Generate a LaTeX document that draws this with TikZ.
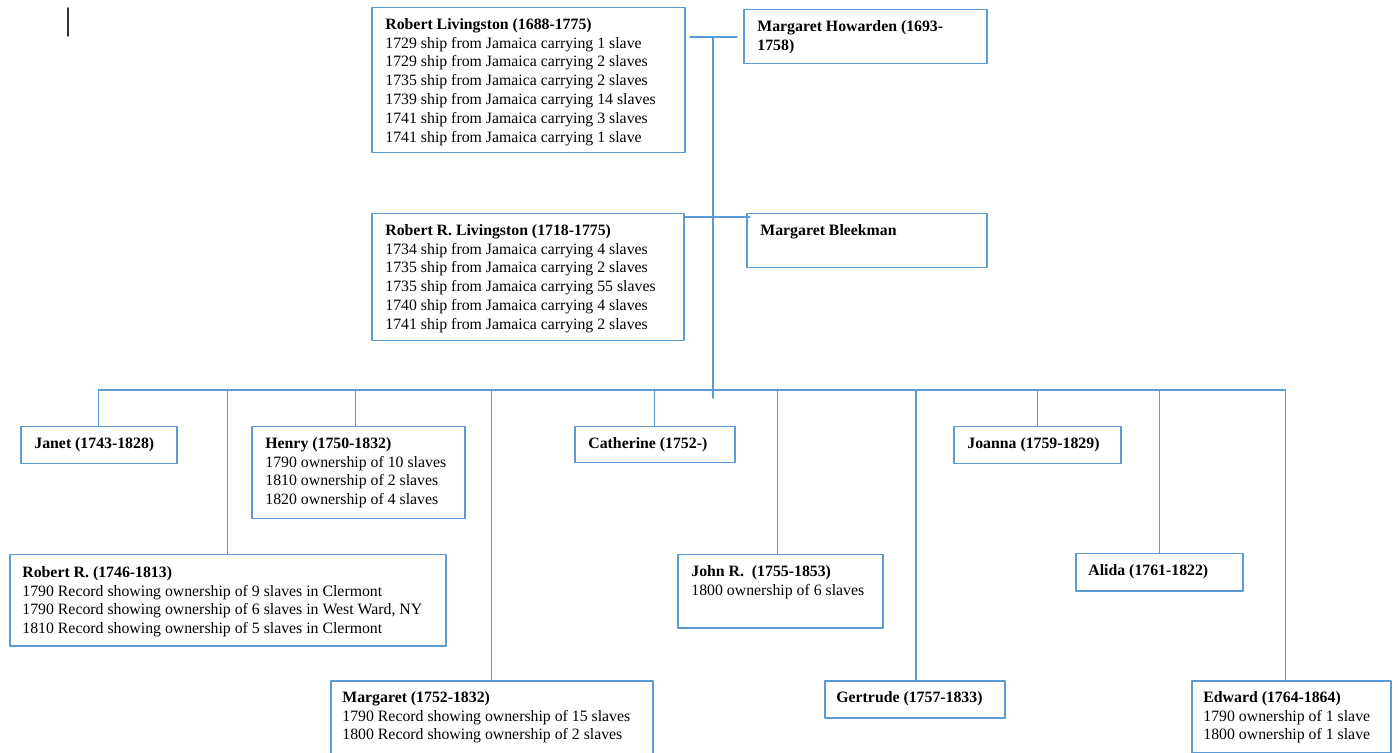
\documentclass[tikz,border=0pt]{standalone}
\usepackage{fontspec}
\setmainfont{Liberation Serif}
\definecolor{boxblue}{HTML}{5B9BD5}
\begin{document}
\begin{tikzpicture}[x=0.5pt, y=-0.5pt, line join=round, line cap=round,
		pbox/.style 2 args={draw=boxblue, line width=0.75pt, anchor=north west, inner sep=0pt, minimum width=#1*0.5pt, minimum height=#2*0.5pt},
		ptext/.style={anchor=north west, align=left, inner sep=0pt, font=\fontsize{7.9}{9.4}\selectfont},
		link/.style={draw=boxblue, line width=0.7pt}]
	\useasboundingbox (0,0) rectangle (1398,753);
	\draw [line width=0.8pt, black!80] (68,8)--(68,36);
	\node[pbox={313}{145}] (rl) at (371,7) {};
	\node[ptext] (rl-t) at ([shift={(14,11)}]rl.north west) {\textbf{Robert Livingston (1688-1775)}\\1729 ship from Jamaica carrying 1 slave\\1729 ship from Jamaica carrying 2 slaves\\1735 ship from Jamaica carrying 2 slaves\\1739 ship from Jamaica carrying 14 slaves\\1741 ship from Jamaica carrying 3 slaves\\1741 ship from Jamaica carrying 1 slave};
	\node[pbox={243}{54}] (mh) at (743,9) {};
	\node[ptext] (mh-t) at ([shift={(14,11)}]mh.north west) {\textbf{Margaret Howarden (1693-}\\\textbf{1758)}};
	\node[pbox={312}{127}] (rrl) at (371,213) {};
	\node[ptext] (rrl-t) at ([shift={(14,11)}]rrl.north west) {\textbf{Robert R. Livingston (1718-1775)}\\1734 ship from Jamaica carrying 4 slaves\\1735 ship from Jamaica carrying 2 slaves\\1735 ship from Jamaica carrying 55 slaves\\1740 ship from Jamaica carrying 4 slaves\\1741 ship from Jamaica carrying 2 slaves};
	\node[pbox={240}{54}] (mb) at (746,213) {};
	\node[ptext] (mb-t) at ([shift={(14,11)}]mb.north west) {\textbf{Margaret Bleekman}};
	\node[pbox={156}{37}] (janet) at (20,426) {};
	\node[ptext] (janet-t) at ([shift={(14,11)}]janet.north west) {\textbf{Janet (1743-1828)}};
	\node[pbox={213}{92}] (henry) at (251,426) {};
	\node[ptext] (henry-t) at ([shift={(14,11)}]henry.north west) {\textbf{Henry (1750-1832)}\\1790 ownership of 10 slaves\\1810 ownership of 2 slaves\\1820 ownership of 4 slaves};
	\node[pbox={160}{36}] (catherine) at (574,426) {};
	\node[ptext] (catherine-t) at ([shift={(14,11)}]catherine.north west) {\textbf{Catherine (1752-)}};
	\node[pbox={167}{37}] (joanna) at (953,426) {};
	\node[ptext] (joanna-t) at ([shift={(14,11)}]joanna.north west) {\textbf{Joanna (1759-1829)}};
	\node[pbox={436}{91}] (robertr) at (9,554) {};
	\node[ptext] (robertr-t) at ([shift={(13,12)}]robertr.north west) {\textbf{Robert R. (1746-1813)}\\1790 Record showing ownership of 9 slaves in Clermont\\1790 Record showing ownership of 6 slaves in West Ward, NY\\1810 Record showing ownership of 5 slaves in Clermont};
	\node[pbox={205}{73}] (john) at (677,554) {};
	\node[ptext] (john-t) at ([shift={(14,11)}]john.north west) {\textbf{John R.\ \ (1755-1853)}\\1800 ownership of 6 slaves};
	\node[pbox={167}{37}] (alida) at (1075,553) {};
	\node[ptext] (alida-t) at ([shift={(13,11)}]alida.north west) {\textbf{Alida (1761-1822)}};
	\node[pbox={322}{74}] (margaret) at (330,680) {};
	\node[ptext] (margaret-t) at ([shift={(12,11)}]margaret.north west) {\textbf{Margaret (1752-1832)}\\1790 Record showing ownership of 15 slaves\\1800 Record showing ownership of 2 slaves};
	\node[pbox={180}{37}] (gertrude) at (824,680) {};
	\node[ptext] (gertrude-t) at ([shift={(12,11)}]gertrude.north west) {\textbf{Gertrude (1757-1833)}};
	\node[pbox={199}{72}] (edward) at (1191,680) {};
	\node[ptext] (edward-t) at ([shift={(12,11)}]edward.north west) {\textbf{Edward (1764-1864)}\\1790 ownership of 1 slave\\1800 ownership of 1 slave};
	\coordinate (top) at (713,37);
	\coordinate (mid) at (713,217);
	\coordinate (bar) at (713,390);
	\coordinate (trunkend) at (713,398);
	\draw [link] (top)--(trunkend);
	\draw [link] ([xshift=-11.5pt]top)--([xshift=12pt]top);
	\draw [link] (rrl.north east |- mid)--([xshift=18.5pt]mid);
	\draw [link] (janet.north |- bar)--([xshift=-3pt]edward.north |- bar);
	\foreach \kid/\dx in {janet/0,robertr/0,henry/-1.3,margaret/0,catherine/0,john/-1.4,gertrude/0.6,joanna/0,alida/0,edward/-3}
		\draw [link] ([xshift=\dx pt]\kid.north |- bar)--([xshift=\dx pt]\kid.north);
\end{tikzpicture}
\end{document}
